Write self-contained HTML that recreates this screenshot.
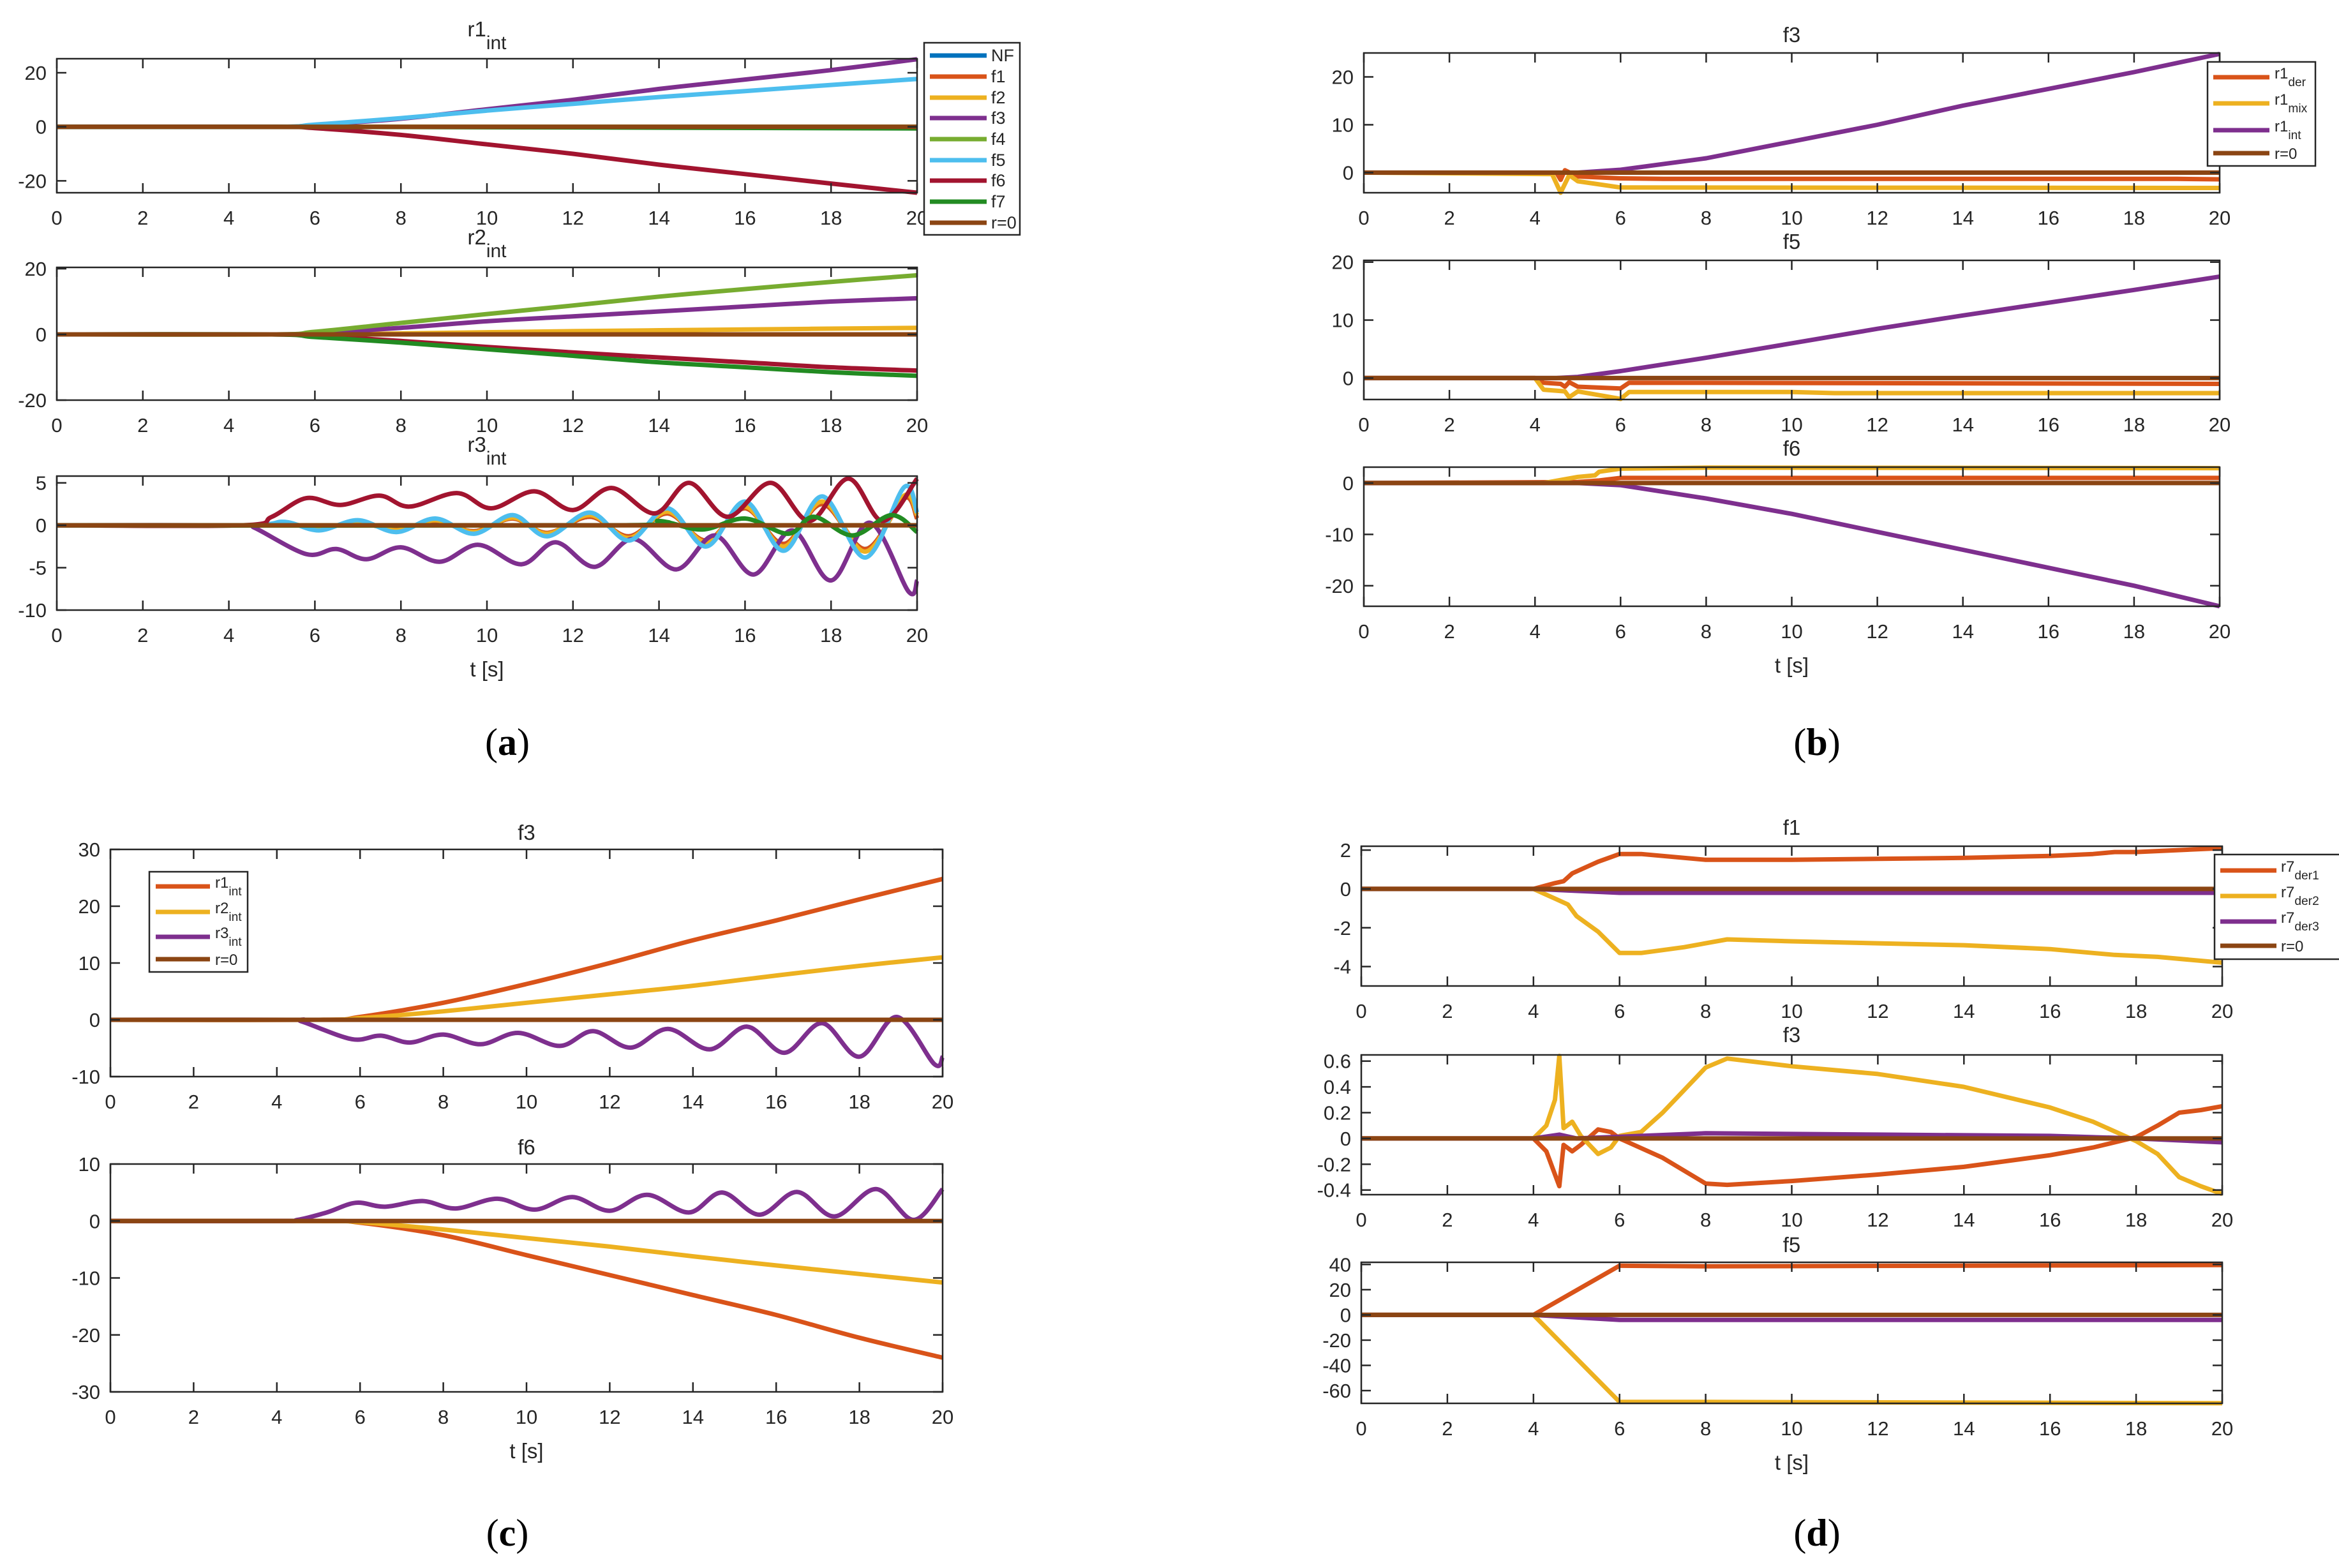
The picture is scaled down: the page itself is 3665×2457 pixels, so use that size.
<!DOCTYPE html>
<html><head><meta charset="utf-8">
<style>
html,body{margin:0;padding:0;background:#fff;}
svg{display:block;}
text{font-family:"Liberation Sans",sans-serif;fill:#262626;}
</style></head>
<body>
<svg id="fig" width="3665" height="2457" viewBox="0 0 3665 2457" xmlns="http://www.w3.org/2000/svg"></svg>
<script>
// ---------- DATA ----------
const xTicks = [0,2,4,6,8,10,12,14,16,18,20];
const yTicksA1 = [-20,0,20];
const yTicksA2 = [-20,0,20];
const yTicksA3 = [-10,-5,0,5];
const yTicksB1 = [0,10,20];
const yTicksB2 = [0,10,20];
const yTicksB3 = [-20,-10,0];
const yTicksC1 = [-10,0,10,20,30];
const yTicksC2 = [-30,-20,-10,0,10];
const yTicksD1 = [-4,-2,0,2];
const yTicksD2 = [-0.4,-0.2,0,0.2,0.4,0.6];
const yTicksD3 = [-60,-40,-20,0,20,40];

const tZero = [0,20];
const vZero = [0,0];

// (a) r1_int
const a1_f3_t = [0,5,6,8,10,12,14,16,18,20];
const a1_f3_v = [0,0,0.7,3,6.5,10,14,17.5,21,25];
const a1_f5_t = [0,5,6,8,10,12,14,16,18,20];
const a1_f5_v = [0,0,0.8,3.2,6,8.5,11,13.2,15.5,17.7];
const a1_f6_t = [0,5,6,8,10,12,14,16,18,20];
const a1_f6_v = [0,0,-0.5,-3,-6.5,-10,-14,-17.5,-21,-24.4];
const a1_f7_t = [0,6,20];
const a1_f7_v = [0,0,-0.6];
// (a) r2_int
const a2_f4_t = [0,5,6,8,10,12,14,16,18,20];
const a2_f4_v = [0,0,0.8,3.5,6.2,8.8,11.5,13.8,16,18];
const a2_f3_t = [0,5,6,8,10,12,14,16,18,20];
const a2_f3_v = [0,0,0.4,2,4,5.5,7,8.5,10,11];
const a2_f2_t = [0,6,8,12,16,20];
const a2_f2_v = [0,0,0.3,1,1.5,2];
const a2_f6_t = [0,5,6,8,10,12,14,16,18,20];
const a2_f6_v = [0,0,-0.5,-2,-3.8,-5.5,-7,-8.5,-10,-11];
const a2_f7_t = [0,5,6,8,10,12,14,16,18,20];
const a2_f7_v = [0,0,-0.8,-2.5,-4.5,-6.5,-8.5,-10,-11.5,-12.6];
// (a) r3_int
const a3_f6_t = [0,4.3,5,5.8,6.6,7.5,8.2,9.3,10.1,11.1,12,12.9,13.9,14.7,15.6,16.6,17.5,18.4,19.2,20];
const a3_f6_v = [0,0,1,3.2,2.4,3.5,2.2,3.8,2,4,1.8,4.4,1.4,5,1.0,5,0.5,5.5,0.5,5.5];
const a3_f3_t = [0,4.3,4.6,5.8,6.5,7.2,8,8.9,9.8,10.8,11.6,12.5,13.4,14.4,15.3,16.2,17.1,18,18.9,19.8,20];
const a3_f3_v = [0,0,-0.3,-3.4,-2.8,-4,-2.6,-4.3,-2.3,-4.6,-2,-4.9,-1.6,-5.2,-1.2,-5.8,-0.6,-6.5,0.3,-7.8,-6.5];
const a3_f5_t = [0,4.4,5.3,6.1,7,7.9,8.8,9.7,10.6,11.4,12.4,13.3,14.2,15.1,16,16.9,17.8,18.8,19.7,20];
const a3_f5_v = [0,0,0.4,-0.6,0.6,-0.8,0.8,-1,1.2,-1.3,1.5,-1.8,2,-2.5,2.8,-3,3.4,-3.8,4.5,1.5];
const a3_f1_t = [0,4.4,5.3,6.1,7,7.9,8.8,9.7,10.6,11.4,12.4,13.3,14.2,15.1,16,16.9,17.8,18.8,19.7,20];
const a3_f1_v = [0,0,0.2,-0.3,0.3,-0.5,0.5,-0.7,0.8,-0.9,1,-1.3,1.4,-1.8,2,-2.2,2.5,-2.8,3.2,0.8];
const a3_f2_t = [0,4.4,5.3,6.1,7,7.9,8.8,9.7,10.6,11.4,12.4,13.3,14.2,15.1,16,16.9,17.8,18.8,19.7,20];
const a3_f2_v = [0,0,0.3,-0.4,0.4,-0.6,0.6,-0.8,0.9,-1,1.2,-1.5,1.6,-2,2.2,-2.5,2.8,-3.1,3.5,1.2];
const a3_f7_t = [0,13,14,15,16,17,17.6,18.5,19.4,20];
const a3_f7_v = [0,0,0.5,-0.5,0.8,-1,1,-1.2,1.2,-0.8];

// (b)
const b1_der_t = [0,4.5,4.6,4.7,5,6,7,19,20];
const b1_der_v = [0,0,-1.5,0.5,-0.8,-1.2,-1.3,-1.3,-1.4];
const b1_mix_t = [0,4.4,4.6,4.8,5,6,20];
const b1_mix_v = [0,-0.3,-4.2,-0.5,-1.8,-3.1,-3.2];
const b1_int_t = [0,5,6,8,10,12,14,16,18,20];
const b1_int_v = [0,0,0.6,3,6.5,10,14,17.5,21,24.8];
const b2_der_t = [0,4,4.2,4.6,4.7,4.8,5,6,6.2,20];
const b2_der_v = [0,0,-0.8,-1,-1.5,-0.7,-1.5,-1.8,-0.8,-1];
const b2_mix_t = [0,4,4.2,4.7,4.8,5,6,6.2,10,11,20];
const b2_mix_v = [0,0,-2,-2.3,-3.3,-2.3,-3.6,-2.4,-2.4,-2.6,-2.6];
const b2_int_t = [0,4.5,5,6,8,10,12,14,16,18,20];
const b2_int_v = [0,0,0.2,1.2,3.5,6,8.5,10.8,13,15.2,17.5];
const b3_der_t = [0,5,5.5,6,20];
const b3_der_v = [0,0.2,0.5,1,1];
const b3_mix_t = [0,4.2,5,5.4,5.5,6,8,20];
const b3_mix_v = [0,0,1.2,1.5,2.2,2.8,3,2.9];
const b3_int_t = [0,5,6,8,10,12,14,16,18,20];
const b3_int_v = [0,0,-0.4,-3,-6,-9.5,-13,-16.5,-20,-24];

// (c)
const c1_r1_t = [0,5,6,8,10,12,14,16,18,20];
const c1_r1_v = [0,0,0.5,3,6.3,10,14,17.5,21.2,24.8];
const c1_r2_t = [0,5,6,8,10,12,14,16,18,20];
const c1_r2_v = [0,0,0.3,1.5,3,4.5,6,7.8,9.5,11];
const c1_r3_t = [0,4.3,4.6,5.8,6.5,7.2,8,8.9,9.8,10.8,11.6,12.5,13.4,14.4,15.3,16.2,17.1,18,18.9,19.8,20];
const c1_r3_v = [0,0,-0.3,-3.4,-2.8,-4,-2.6,-4.3,-2.3,-4.6,-2,-4.9,-1.6,-5.2,-1.2,-5.8,-0.6,-6.5,0.5,-7.8,-6.5];
const c2_r1_t = [0,5,6,8,10,12,14,16,18,20];
const c2_r1_v = [0,0,-0.3,-2.5,-6,-9.5,-13,-16.5,-20.5,-24];
const c2_r2_t = [0,5,6,8,10,12,14,16,18,20];
const c2_r2_v = [0,0,-0.2,-1.5,-3,-4.5,-6.2,-7.8,-9.3,-10.8];
const c2_r3_t = [0,4,4.5,5.2,5.9,6.6,7.5,8.3,9.3,10.2,11.1,12,12.9,13.9,14.7,15.6,16.5,17.4,18.4,19.3,20];
const c2_r3_v = [0,0,0.2,1.5,3.2,2.5,3.5,2.2,3.9,2,4.2,1.8,4.6,1.5,5,1.1,5.1,0.8,5.6,0.2,5.6];

// (d)
const d1_der1_t = [0,4,4.5,4.7,4.9,5.5,6,6.5,8,10,12,14,16,17,17.5,18,20];
const d1_der1_v = [0,0,0.3,0.4,0.8,1.4,1.8,1.8,1.5,1.5,1.55,1.6,1.7,1.8,1.9,1.9,2.1];
const d1_der2_t = [0,4,4.5,4.8,5,5.5,6,6.5,7.5,8.5,10,12,14,16,17,17.5,18.5,20];
const d1_der2_v = [0,0,-0.5,-0.8,-1.4,-2.2,-3.3,-3.3,-3,-2.6,-2.7,-2.8,-2.9,-3.1,-3.3,-3.4,-3.5,-3.8];
const d1_der3_t = [0,4,6,20];
const d1_der3_v = [0,0,-0.2,-0.2];
const d2_der1_t = [0,4,4.3,4.6,4.7,4.9,5.1,5.5,5.8,6,7,8,8.5,10,12,14,16,17,18,18.5,19,19.5,20];
const d2_der1_v = [0,0,-0.1,-0.37,-0.05,-0.1,-0.05,0.07,0.05,0,-0.15,-0.35,-0.36,-0.33,-0.28,-0.22,-0.13,-0.07,0.01,0.1,0.2,0.22,0.25];
const d2_der2_t = [0,4,4.3,4.5,4.6,4.7,4.9,5.1,5.5,5.8,6,6.5,7,8,8.5,10,12,14,16,17,18,18.5,19,19.5,20];
const d2_der2_v = [0,0,0.1,0.3,0.64,0.08,0.13,0.02,-0.12,-0.07,0.02,0.05,0.2,0.55,0.62,0.56,0.5,0.4,0.24,0.13,-0.02,-0.12,-0.3,-0.37,-0.43];
const d2_der3_t = [0,4,4.6,5,8,12,16,18,20];
const d2_der3_v = [0,0,0.03,0,0.04,0.03,0.02,0,-0.03];
const d3_der1_t = [0,4,6,8,20];
const d3_der1_v = [0,0,39,38.5,39.5];
const d3_der2_t = [0,4,6,8,20];
const d3_der2_v = [0,0,-69,-69,-70];
const d3_der3_t = [0,4,6,20];
const d3_der3_v = [0,0,-4,-4];

// ---------- STYLE / LAYOUT ----------
const C = {NF:'#0072BD',f1:'#D95319',f2:'#EDB120',f3:'#7E2F8E',f4:'#77AC30',f5:'#4DBEEE',f6:'#A2142F',f7:'#228B22',z:'#8B4513'};
const NS = 'http://www.w3.org/2000/svg';
const svg = document.getElementById('fig');
function mk(tag, attrs, parent){
  const e = document.createElementNS(NS, tag);
  for (const k in attrs) e.setAttribute(k, attrs[k]);
  (parent||svg).appendChild(e);
  return e;
}
function fmt(v){ return (Math.round(v*10)/10).toString(); }

function smoothPath(P){
  let d = 'M' + P[0][0].toFixed(1) + ' ' + P[0][1].toFixed(1);
  for (let i=0;i<P.length-1;i++){
    const p0 = P[Math.max(0,i-1)], p1 = P[i], p2 = P[i+1], p3 = P[Math.min(P.length-1,i+2)];
    const c1x = p1[0] + (p2[0]-p0[0])/6, c1y = p1[1] + (p2[1]-p0[1])/6;
    const c2x = p2[0] - (p3[0]-p1[0])/6, c2y = p2[1] - (p3[1]-p1[1])/6;
    d += 'C'+c1x.toFixed(1)+' '+c1y.toFixed(1)+' '+c2x.toFixed(1)+' '+c2y.toFixed(1)+' '+p2[0].toFixed(1)+' '+p2[1].toFixed(1);
  }
  return d;
}

function drawAxes(cfg){
  const g = mk('g', {});
  
  
  const sx = t => cfg.x0 + (t-0)/(20-0)*(cfg.x1-cfg.x0);
  const sy = v => cfg.yb - (v-cfg.ymin)/(cfg.ymax-cfg.ymin)*(cfg.yb-cfg.yt);
  const cid = 'clip-'+cfg.name;
  const cp = mk('clipPath', {id:cid}, g);
  mk('rect', {x:cfg.x0, y:cfg.yt-4, width:cfg.x1-cfg.x0+4, height:cfg.yb-cfg.yt+8}, cp);
  const lines = mk('g', {'clip-path':'url(#'+cid+')'}, g);
  for (const s of cfg.series){
    const P = s.t.map((t,i)=>[sx(t), sy(s.v[i])]);
    let d;
    if (cfg.smooth) d = smoothPath(P);
    else { d=''; P.forEach((p,i)=>{ d += (i?'L':'M') + p[0].toFixed(1) + ' ' + p[1].toFixed(1); }); }
    const p = mk('path', {d:d, fill:'none', stroke:s.c, 'stroke-width':7, 'stroke-linejoin':'round'}, lines);
    
    
  }
  const box = mk('rect', {x:cfg.x0, y:cfg.yt, width:cfg.x1-cfg.x0, height:cfg.yb-cfg.yt, fill:'none', stroke:'#262626', 'stroke-width':2.5}, g);
  
  
  for (const t of xTicks){
    const x = sx(t);
    mk('line', {x1:x, x2:x, y1:cfg.yb, y2:cfg.yb-15, stroke:'#262626', 'stroke-width':2.5}, g);
    mk('line', {x1:x, x2:x, y1:cfg.yt, y2:cfg.yt+15, stroke:'#262626', 'stroke-width':2.5}, g);
    const tx = mk('text', {x:x, y:cfg.yb+50, 'font-size':31, 'text-anchor':'middle'}, g);
    tx.textContent = t;
    
    
  }
  for (const v of cfg.yticks){
    const y = sy(v);
    mk('line', {x1:cfg.x0, x2:cfg.x0+15, y1:y, y2:y, stroke:'#262626', 'stroke-width':2.5}, g);
    mk('line', {x1:cfg.x1, x2:cfg.x1-15, y1:y, y2:y, stroke:'#262626', 'stroke-width':2.5}, g);
    const ty = mk('text', {x:cfg.x0-16, y:y+11, 'font-size':31, 'text-anchor':'end'}, g);
    ty.textContent = fmt(v);
    
    
  }
  const tt = mk('text', {x:(cfg.x0+cfg.x1)/2, y:cfg.ty, 'font-size':33, 'text-anchor':'middle'}, g);
  
  
  if (cfg.sub){
    const a = mk('tspan', {}, tt); a.textContent = cfg.title;
    const b = mk('tspan', {dy:20, 'font-size':30}, tt); b.textContent = cfg.sub;
  } else tt.textContent = cfg.title;
  if (cfg.xlabel){
    const xl = mk('text', {x:(cfg.x0+cfg.x1)/2, y:cfg.yb+104, 'font-size':33, 'text-anchor':'middle'}, g);
    xl.textContent = 't [s]';
    
    
  }
}

function drawLegend(L){
  const g = mk('g', {});
  
  
  mk('rect', {x:L.x, y:L.y, width:L.w, height:L.h, fill:'#fff', stroke:'#262626', 'stroke-width':2.5}, g);
  L.items.forEach((it,i)=>{
    const y = L.ys[i];
    const ln = mk('line', {x1:L.lx0, x2:L.lx1, y1:y, y2:y, stroke:it.c, 'stroke-width':7}, g);
    
    
    const t = mk('text', {x:L.tx, y:y+(it.sub?2:9), 'font-size':L.fs}, g);
    
    
    const a = mk('tspan', {}, t); a.textContent = it.l;
    if (it.sub){ const b = mk('tspan', {dy:12, 'font-size':L.fs*0.8}, t); b.textContent = it.sub; }
  });
}

function S(n,c,t,v){ return {n:n,c:c,t:t,v:v}; }
const XA0=89, XA1=1437, XB0=2137, XB1=3478, XC0=173, XC1=1477, XD0=2133, XD1=3482;

// (a)
drawAxes({name:'plot-a-r1', smooth:true, x0:XA0,x1:XA1,yt:92,yb:302,ymin:-24.4,ymax:25.2,yticks:yTicksA1,ty:57,title:'r1',sub:'int',
  series:[S('nf',C.NF,tZero,vZero),S('f1',C.f1,tZero,vZero),S('f2',C.f2,tZero,vZero),S('f3',C.f3,a1_f3_t,a1_f3_v),S('f4',C.f4,tZero,vZero),
  S('f5',C.f5,a1_f5_t,a1_f5_v),S('f6',C.f6,a1_f6_t,a1_f6_v),S('f7',C.f7,a1_f7_t,a1_f7_v),S('r0',C.z,tZero,vZero)]});
drawAxes({name:'plot-a-r2', smooth:true, x0:XA0,x1:XA1,yt:419,yb:627,ymin:-20,ymax:20.4,yticks:yTicksA2,ty:383,title:'r2',sub:'int',
  series:[S('nf',C.NF,tZero,vZero),S('f1',C.f1,tZero,vZero),S('f2',C.f2,a2_f2_t,a2_f2_v),S('f3',C.f3,a2_f3_t,a2_f3_v),S('f4',C.f4,a2_f4_t,a2_f4_v),
  S('f5',C.f5,tZero,vZero),S('f6',C.f6,a2_f6_t,a2_f6_v),S('f7',C.f7,a2_f7_t,a2_f7_v),S('r0',C.z,tZero,vZero)]});
drawAxes({name:'plot-a-r3', smooth:true, x0:XA0,x1:XA1,yt:746,yb:956,ymin:-10,ymax:5.8,yticks:yTicksA3,ty:708,title:'r3',sub:'int',xlabel:true,
  series:[S('nf',C.NF,a3_f1_t,a3_f1_v),S('f1',C.f1,a3_f1_t,a3_f1_v),S('f2',C.f2,a3_f2_t,a3_f2_v),S('f3',C.f3,a3_f3_t,a3_f3_v),
  S('f5',C.f5,a3_f5_t,a3_f5_v),S('f6',C.f6,a3_f6_t,a3_f6_v),S('f4',C.f4,tZero,vZero),S('f7',C.f7,a3_f7_t,a3_f7_v),S('r0',C.z,tZero,vZero)]});
drawLegend({name:'legend-a',x:1448,y:67,w:150,h:301,lx0:1457,lx1:1546,tx:1553,fs:27,ys:[87,120,153,185,218,251,283,316,349],
  items:[{l:'NF',c:C.NF},{l:'f1',c:C.f1},{l:'f2',c:C.f2},{l:'f3',c:C.f3},{l:'f4',c:C.f4},{l:'f5',c:C.f5},{l:'f6',c:C.f6},{l:'f7',c:C.f7},{l:'r=0',c:C.z}]});

// (b)
drawAxes({name:'plot-b-f3', x0:XB0,x1:XB1,yt:83,yb:302,ymin:-4.2,ymax:25,yticks:yTicksB1,ty:66,title:'f3',
  series:[S('r1-der',C.f1,b1_der_t,b1_der_v),S('r1-mix',C.f2,b1_mix_t,b1_mix_v),S('r1-int',C.f3,b1_int_t,b1_int_v),S('r0',C.z,tZero,vZero)]});
drawAxes({name:'plot-b-f5', x0:XB0,x1:XB1,yt:408,yb:626,ymin:-3.7,ymax:20.3,yticks:yTicksB2,ty:390,title:'f5',
  series:[S('r1-der',C.f1,b2_der_t,b2_der_v),S('r1-mix',C.f2,b2_mix_t,b2_mix_v),S('r1-int',C.f3,b2_int_t,b2_int_v),S('r0',C.z,tZero,vZero)]});
drawAxes({name:'plot-b-f6', x0:XB0,x1:XB1,yt:732,yb:950,ymin:-24,ymax:3.1,yticks:yTicksB3,ty:714,title:'f6',xlabel:true,
  series:[S('r1-der',C.f1,b3_der_t,b3_der_v),S('r1-mix',C.f2,b3_mix_t,b3_mix_v),S('r1-int',C.f3,b3_int_t,b3_int_v),S('r0',C.z,tZero,vZero)]});
drawLegend({name:'legend-b',x:3459,y:97,w:169,h:163,lx0:3468,lx1:3556,tx:3564,fs:24,ys:[121,162,204,240],
  items:[{l:'r1',sub:'der',c:C.f1},{l:'r1',sub:'mix',c:C.f2},{l:'r1',sub:'int',c:C.f3},{l:'r=0',c:C.z}]});

// (c)
drawAxes({name:'plot-c-f3', smooth:true, x0:XC0,x1:XC1,yt:1331,yb:1687,ymin:-10,ymax:30,yticks:yTicksC1,ty:1316,title:'f3',
  series:[S('r1-int',C.f1,c1_r1_t,c1_r1_v),S('r2-int',C.f2,c1_r2_t,c1_r2_v),S('r3-int',C.f3,c1_r3_t,c1_r3_v),S('r0',C.z,tZero,vZero)]});
drawAxes({name:'plot-c-f6', smooth:true, x0:XC0,x1:XC1,yt:1824,yb:2181,ymin:-30,ymax:10,yticks:yTicksC2,ty:1809,title:'f6',xlabel:true,
  series:[S('r1-int',C.f1,c2_r1_t,c2_r1_v),S('r2-int',C.f2,c2_r2_t,c2_r2_v),S('r3-int',C.f3,c2_r3_t,c2_r3_v),S('r0',C.z,tZero,vZero)]});
drawLegend({name:'legend-c',x:234,y:1366,w:154,h:157,lx0:244,lx1:329,tx:337,fs:24,ys:[1389,1429,1468,1503],
  items:[{l:'r1',sub:'int',c:C.f1},{l:'r2',sub:'int',c:C.f2},{l:'r3',sub:'int',c:C.f3},{l:'r=0',c:C.z}]});

// (d)
drawAxes({name:'plot-d-f1', x0:XD0,x1:XD1,yt:1326,yb:1545,ymin:-5,ymax:2.2,yticks:yTicksD1,ty:1308,title:'f1',
  series:[S('r7-der1',C.f1,d1_der1_t,d1_der1_v),S('r7-der2',C.f2,d1_der2_t,d1_der2_v),S('r7-der3',C.f3,d1_der3_t,d1_der3_v),S('r0',C.z,tZero,vZero)]});
drawAxes({name:'plot-d-f3', x0:XD0,x1:XD1,yt:1653,yb:1872,ymin:-0.436,ymax:0.648,yticks:yTicksD2,ty:1633,title:'f3',
  series:[S('r7-der1',C.f1,d2_der1_t,d2_der1_v),S('r7-der2',C.f2,d2_der2_t,d2_der2_v),S('r7-der3',C.f3,d2_der3_t,d2_der3_v),S('r0',C.z,tZero,vZero)]});
drawAxes({name:'plot-d-f5', x0:XD0,x1:XD1,yt:1978,yb:2199,ymin:-70.1,ymax:41.7,yticks:yTicksD3,ty:1962,title:'f5',xlabel:true,
  series:[S('r7-der1',C.f1,d3_der1_t,d3_der1_v),S('r7-der2',C.f2,d3_der2_t,d3_der2_v),S('r7-der3',C.f3,d3_der3_t,d3_der3_v),S('r0',C.z,tZero,vZero)]});
drawLegend({name:'legend-d',x:3470,y:1339,w:200,h:164,lx0:3479,lx1:3567,tx:3574,fs:24,ys:[1364,1404,1444,1482],
  items:[{l:'r7',sub:'der1',c:C.f1},{l:'r7',sub:'der2',c:C.f2},{l:'r7',sub:'der3',c:C.f3},{l:'r=0',c:C.z}]});

// panel labels
[['(','a',')',795,1183,'panel-label-a'],['(','b',')',2847,1183,'panel-label-b'],['(','c',')',795,2422,'panel-label-c'],['(','d',')',2847,2422,'panel-label-d']].forEach(p=>{
  const t = mk('text', {x:p[3], y:p[4], 'font-size':60, 'text-anchor':'middle', style:'font-family:"Liberation Serif",serif;fill:#000'});
  
  
  const a = mk('tspan', {}, t); a.textContent = p[0];
  const b = mk('tspan', {'font-weight':'bold'}, t); b.textContent = p[1];
  const c = mk('tspan', {}, t); c.textContent = p[2];
});
</script>
</body></html>
